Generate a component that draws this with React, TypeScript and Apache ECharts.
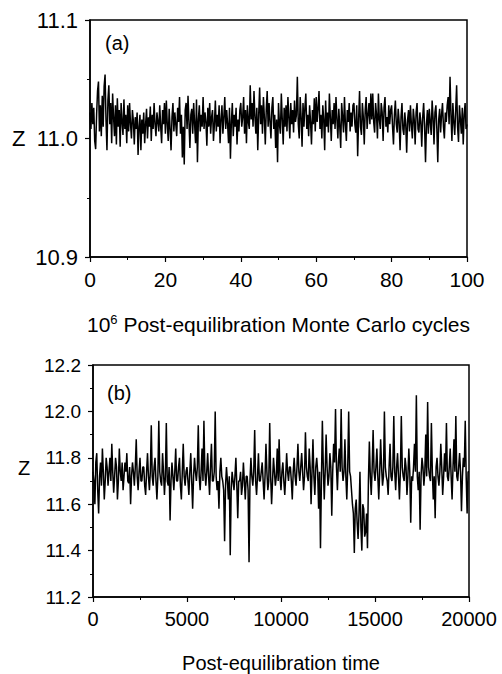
import React, { useEffect, useRef } from "react";
import * as echarts from "echarts";

// Panel (a): Z vs 10^6 post-equilibration MC cycles (sampled every 0.25)
const cyclesStep = 0.25;
const zA = [
  11.022, 11.008, 11.030, 11.012, 11.026, 10.998, 10.991, 11.020, 11.040, 11.048, 11.006, 11.028, 11.002, 11.036, 11.010, 11.044, 11.054, 11.015, 10.990, 11.032,
  11.045, 11.012, 11.030, 10.996, 11.038, 11.018, 11.002, 11.028, 10.995, 11.034, 11.010, 11.024, 10.993, 11.030, 11.014, 11.003, 11.033, 11.008, 11.020, 10.996,
  11.028, 11.006, 11.030, 11.012, 11.000, 11.024, 11.015, 10.995, 11.018, 11.008, 11.022, 10.986, 11.010, 11.020, 10.990, 11.016, 11.004, 11.022, 10.996, 11.012,
  11.025, 11.000, 11.018, 11.010, 11.027, 10.998, 11.020, 11.008, 11.030, 11.012, 11.002, 11.022, 11.014, 11.006, 11.028, 11.010, 10.996, 11.024, 11.012, 11.030,
  11.004, 11.032, 11.012, 10.998, 11.025, 11.008, 10.990, 11.018, 11.030, 11.006, 11.022, 11.012, 11.002, 11.026, 11.014, 11.035, 11.004, 11.020, 10.984, 11.010,
  10.978, 11.024, 11.030, 11.008, 11.036, 11.014, 10.992, 11.020, 11.025, 11.004, 11.030, 11.012, 10.996, 11.033, 10.980, 11.016, 11.028, 11.006, 11.020, 11.010,
  11.035, 11.008, 11.022, 11.014, 10.994, 11.026, 11.010, 11.030, 11.004, 11.018, 11.024, 10.998, 11.012, 11.032, 11.006, 11.020, 11.010, 11.028, 10.996, 11.016,
  11.028, 11.004, 11.018, 11.035, 11.008, 11.024, 11.012, 10.996, 11.026, 10.983, 11.014, 11.030, 11.002, 11.020, 11.010, 11.026, 10.995, 11.016, 11.006, 11.024,
  11.030, 11.010, 11.018, 11.035, 11.004, 11.024, 10.996, 11.028, 11.014, 11.008, 11.045, 11.016, 11.030, 11.010, 11.040, 11.018, 11.004, 11.026, 10.990, 11.020,
  11.043, 11.012, 11.028, 11.004, 11.035, 11.018, 10.995, 11.024, 11.040, 11.010, 11.030, 11.014, 11.000, 11.026, 11.035, 11.008, 11.020, 10.992, 11.016, 10.980,
  11.030, 11.012, 11.004, 11.038, 11.016, 10.995, 11.026, 11.010, 11.028, 11.006, 11.035, 11.018, 11.000, 11.030, 11.012, 11.024, 11.005, 11.032, 11.014, 11.020,
  11.052, 11.012, 11.000, 11.035, 11.018, 10.993, 11.030, 11.010, 11.026, 11.038, 11.008, 11.020, 11.002, 11.028, 11.014, 10.995, 11.024, 11.012, 11.034, 11.006,
  11.035, 11.014, 11.026, 11.040, 11.008, 11.020, 11.000, 11.028, 11.016, 10.990, 11.032, 11.010, 11.022, 11.005, 11.038, 11.018, 10.998, 11.024, 11.012, 11.030,
  11.008, 11.035, 11.016, 11.000, 11.025, 11.010, 10.992, 11.030, 11.018, 11.005, 11.035, 11.012, 10.998, 11.024, 11.014, 11.030, 11.006, 11.022, 11.010, 11.028,
  11.030, 11.012, 11.005, 11.028, 10.985, 11.016, 11.040, 11.010, 11.003, 11.030, 11.018, 10.995, 11.024, 11.035, 11.008, 11.020, 11.030, 11.012, 11.038, 11.016,
  11.038, 11.014, 11.005, 11.030, 11.020, 11.000, 11.038, 11.016, 11.008, 11.030, 11.022, 10.998, 11.026, 11.035, 11.010, 11.018, 11.005, 11.028, 11.012, 11.024,
  11.028, 11.010, 10.995, 11.020, 11.032, 11.012, 11.005, 11.025, 11.014, 10.990, 11.018, 11.030, 11.008, 11.003, 11.022, 11.012, 10.988, 11.016, 11.024, 11.006,
  11.028, 11.012, 11.000, 11.025, 11.016, 10.995, 11.022, 11.030, 11.008, 11.005, 11.022, 11.014, 10.993, 11.018, 11.030, 11.010, 10.980, 11.012, 11.024, 11.004,
  11.025, 11.014, 11.003, 11.032, 11.018, 10.995, 11.022, 11.028, 11.008, 10.980, 11.016, 11.025, 11.005, 11.020, 11.030, 11.010, 11.000, 11.022, 11.014, 11.028,
  11.035, 11.012, 11.052, 11.020, 10.998, 11.030, 11.014, 11.003, 11.024, 11.045, 11.010, 10.997, 11.028, 11.016, 11.004, 11.026, 10.995, 11.020, 11.030, 11.008,
  11.012,
];

// Panel (b): Z vs post-equilibration time (sampled every 50)
const timeStep = 50;
const zB = [
  11.74, 11.70, 11.60, 11.78, 11.82, 11.66, 11.56, 11.72, 11.78, 11.68, 11.84, 11.74, 11.62, 11.70, 11.80, 11.76, 11.68, 11.74, 11.80, 11.70,
  11.86, 11.74, 11.65, 11.72, 11.80, 11.76, 11.62, 11.70, 11.84, 11.74, 11.70, 11.78, 11.66, 11.72, 11.78, 11.74, 11.82, 11.70, 11.69, 11.76,
  11.60, 11.72, 11.78, 11.74, 11.68, 11.76, 11.88, 11.72, 11.66, 11.74, 11.80, 11.70, 11.70, 11.76, 11.76, 11.68, 11.64, 11.74, 11.82, 11.72,
  11.66, 11.74, 11.94, 11.72, 11.68, 11.76, 11.80, 11.70, 11.62, 11.72, 11.96, 11.74, 11.70, 11.68, 11.82, 11.74, 11.64, 11.72, 11.95, 11.70,
  11.68, 11.76, 11.53, 11.70, 11.78, 11.72, 11.66, 11.74, 11.84, 11.70, 11.70, 11.76, 11.80, 11.68, 11.62, 11.74, 11.86, 11.72, 11.68, 11.74,
  11.76, 11.70, 11.64, 11.74, 11.82, 11.70, 11.58, 11.72, 11.80, 11.74, 11.70, 11.76, 11.94, 11.72, 11.66, 11.74, 11.84, 11.70, 11.96, 11.74,
  11.68, 11.74, 11.82, 11.72, 11.64, 11.76, 11.86, 11.70, 11.70, 11.74, 12.00, 11.72, 11.66, 11.70, 11.58, 11.74, 11.80, 11.72, 11.70, 11.66,
  11.44, 11.68, 11.76, 11.70, 11.62, 11.72, 11.38, 11.66, 11.74, 11.70, 11.66, 11.72, 11.80, 11.68, 11.54, 11.70, 11.70, 11.74, 11.64, 11.68,
  11.78, 11.70, 11.62, 11.72, 11.72, 11.66, 11.35, 11.70, 11.80, 11.72, 11.68, 11.74, 11.92, 11.70, 11.64, 11.72, 11.82, 11.70, 11.70, 11.74,
  11.78, 11.70, 11.62, 11.72, 11.86, 11.74, 11.66, 11.70, 11.95, 11.72, 11.60, 11.70, 11.80, 11.74, 11.68, 11.72, 11.84, 11.70, 11.88, 11.72,
  11.66, 11.74, 11.78, 11.70, 11.64, 11.72, 11.82, 11.74, 11.70, 11.76, 11.76, 11.70, 11.62, 11.74, 11.80, 11.72, 11.68, 11.76, 11.86, 11.74,
  11.70, 11.76, 11.82, 11.74, 11.66, 11.72, 11.91, 11.76, 11.72, 11.70, 11.84, 11.76, 11.60, 11.74, 11.88, 11.72, 11.64, 11.76, 11.80, 11.74,
  11.58, 11.74, 11.41, 11.70, 11.96, 11.76, 11.62, 11.74, 11.90, 11.76, 11.68, 11.72, 11.82, 11.76, 11.55, 11.74, 11.86, 11.78, 12.01, 11.76,
  11.66, 11.78, 11.84, 11.74, 12.01, 11.76, 11.70, 11.74, 11.88, 11.72, 11.62, 11.76, 12.00, 11.74, 11.72, 11.66, 11.60, 11.56, 11.39, 11.58,
  11.62, 11.52, 11.45, 11.56, 11.74, 11.50, 11.40, 11.60, 11.58, 11.46, 11.48, 11.56, 11.41, 11.70, 11.87, 11.72, 11.64, 11.76, 11.92, 11.74,
  11.70, 11.76, 11.84, 11.72, 11.62, 11.74, 11.88, 11.76, 11.68, 11.72, 12.00, 11.76, 11.72, 11.70, 11.64, 11.76, 11.86, 11.72, 11.70, 11.76,
  11.98, 11.74, 11.66, 11.76, 11.82, 11.72, 11.62, 11.74, 11.98, 11.76, 11.72, 11.70, 11.80, 11.76, 11.64, 11.72, 11.84, 11.74, 11.52, 11.72,
  11.70, 11.76, 11.86, 11.74, 12.07, 11.72, 11.66, 11.74, 11.49, 11.72, 11.80, 11.76, 11.68, 11.74, 11.90, 11.72, 12.04, 11.76, 11.72, 11.70,
  11.95, 11.74, 11.62, 11.72, 11.54, 11.76, 11.80, 11.72, 11.68, 11.74, 11.86, 11.76, 11.64, 11.72, 11.82, 11.74, 11.95, 11.72, 11.70, 11.76,
  11.84, 11.72, 11.62, 11.76, 11.88, 11.74, 11.98, 11.72, 11.70, 11.76, 11.82, 11.74, 11.57, 11.72, 11.80, 11.76, 11.96, 11.72, 11.56, 11.74,
  11.74,
];

const xTicksA = { min: 0, max: 100, interval: 20 };
const yTicksA = { min: 10.9, max: 11.1, interval: 0.1 };
const xTicksB = { min: 0, max: 20000, interval: 5000 };
const yTicksB = { min: 11.2, max: 12.2, interval: 0.2 };

const FONT = "'Liberation Sans', Arial, Helvetica, sans-serif";

export default function App() {
  const ref = useRef<HTMLDivElement>(null);
  useEffect(() => {
    document.body.style.margin = "0";
    const chart = echarts.init(ref.current!, undefined, { renderer: "svg" });
    const seriesA = zA.map((v, i) => [i * cyclesStep, v]);
    const seriesB = zB.map((v, i) => [i * timeStep, v]);
    const axisCommon = {
      axisLine: { show: true, lineStyle: { color: "#000", width: 1.5 } },
      axisTick: { show: true, inside: false, length: 5, lineStyle: { color: "#000", width: 1.2 } },
      minorTick: { show: true, splitNumber: 2, length: 3, lineStyle: { color: "#000", width: 1 } },
      splitLine: { show: false },
      minorSplitLine: { show: false },
    };
    chart.setOption({
      animation: false,
      backgroundColor: "#fff",
      grid: [
        { left: 90, top: 20, width: 377, height: 237, show: true, borderColor: "#000", borderWidth: 1.5, backgroundColor: "transparent" },
        { left: 93, top: 365, width: 376, height: 237, show: true, borderColor: "#000", borderWidth: 1.5, backgroundColor: "transparent" },
      ],
      xAxis: [
        {
          type: "value", gridIndex: 0, ...xTicksA, ...axisCommon,
          axisLabel: { color: "#000", fontSize: 21, fontFamily: FONT, margin: 12, formatter: (v: number) => String(v) },
          name: "{a|10}{s|6}{a| Post-equilibration Monte Carlo cycles}",
          nameLocation: "middle", nameGap: 56,
          nameTextStyle: {
            rich: {
              a: { fontSize: 21, fontFamily: FONT, color: "#000" },
              s: { fontSize: 13, fontFamily: FONT, color: "#000", verticalAlign: "top", padding: [0, 0, 10, 0] },
            },
          },
        },
        {
          type: "value", gridIndex: 1, ...xTicksB, ...axisCommon,
          axisLabel: { color: "#000", fontSize: 20, fontFamily: FONT, margin: 12, formatter: (v: number) => String(v) },
          name: "Post-equilibration time",
          nameLocation: "middle", nameGap: 56,
          nameTextStyle: { fontSize: 20, fontFamily: FONT, color: "#000" },
        },
      ],
      yAxis: [
        {
          type: "value", gridIndex: 0, ...yTicksA, ...axisCommon,
          axisLabel: { color: "#000", fontSize: 22, fontFamily: FONT, margin: 12, formatter: (v: number) => v.toFixed(1) },
        },
        {
          type: "value", gridIndex: 1, ...yTicksB, ...axisCommon,
          axisLabel: { color: "#000", fontSize: 19, fontFamily: FONT, margin: 12, formatter: (v: number) => v.toFixed(1) },
        },
      ],
      series: [
        {
          type: "line", xAxisIndex: 0, yAxisIndex: 0, data: seriesA, showSymbol: false,
          lineStyle: { color: "#000", width: 1.5 }, clip: true,
        },
        {
          type: "line", xAxisIndex: 1, yAxisIndex: 1, data: seriesB, showSymbol: false,
          lineStyle: { color: "#000", width: 1.5 }, clip: true,
        },
      ],
      graphic: [
        { type: "text", left: 12, top: 127, style: { text: "Z", fontSize: 22, fontFamily: FONT, fill: "#000" } },
        { type: "text", left: 18, top: 458, style: { text: "Z", fontSize: 20, fontFamily: FONT, fill: "#000" } },
        { type: "text", left: 105, top: 33, style: { text: "(a)", fontSize: 20, fontFamily: FONT, fill: "#000" } },
        { type: "text", left: 107, top: 383, style: { text: "(b)", fontSize: 20, fontFamily: FONT, fill: "#000" } },
      ],
    });
    return () => chart.dispose();
  }, []);
  return <div ref={ref} style={{ width: 502, height: 674 }} />;
}
